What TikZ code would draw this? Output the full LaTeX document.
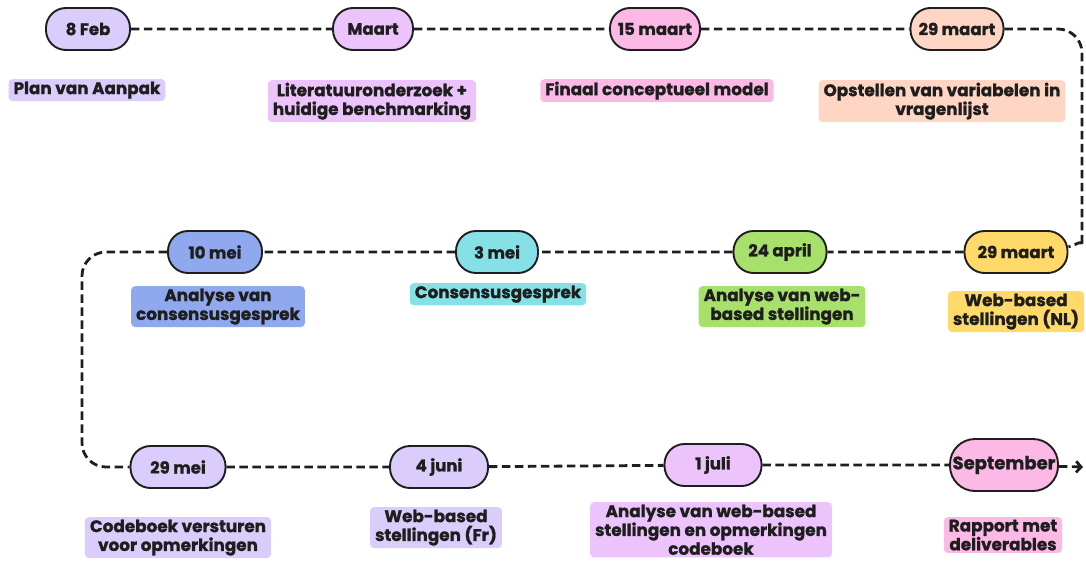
\documentclass[tikz,border=0pt]{standalone}
\usepackage{fontspec}
\setmainfont{Poppins}[BoldFont={Poppins Bold}, BoldFeatures={FakeBold=1.2}]
\usetikzlibrary{arrows.meta}
\definecolor{inkt}{HTML}{1E1E1E}
\definecolor{lila}{HTML}{DACDFB}
\definecolor{orchid}{HTML}{ECC3FB}
\definecolor{roze}{HTML}{FDB9E6}
\definecolor{perzik}{HTML}{FFD5C3}
\definecolor{blauw}{HTML}{8FA8EE}
\definecolor{cyaan}{HTML}{86E1E6}
\definecolor{groen}{HTML}{A7E16B}
\definecolor{geel}{HTML}{FFD969}
\tikzset{
  datum/.style={rectangle, rounded corners=20pt, draw=inkt, line width=1.9pt,
    minimum height=42pt, inner xsep=4pt,
    text=inkt, font=\bfseries\fontsize{16.5}{19}\selectfont},
  taak/.style={rounded corners=4pt, anchor=north, align=center,
    inner xsep=5pt, inner ysep=2.5pt, text=inkt,
    font=\bfseries\fontsize{16.8}{18.8}\selectfont},
  tijdlijn/.style={draw=inkt, line width=2.8pt, dash pattern=on 8.5pt off 4.5pt,
    rounded corners=24pt}
}
\begin{document}
\begin{tikzpicture}[x=1pt,y=-1pt]
\useasboundingbox (0,0) rectangle (1086,565);
% datums
\foreach \x/\y/\w/\nm/\txt/\col in {
    88/29/84/feb/8 Feb/lila, 373/29/80/maart/Maart/orchid,
    655/29/90/mrtb/15 maart/roze, 957/29/93/mrtc/29 maart/perzik,
    215/252/94/meia/10 mei/blauw, 497/252/82/meib/3 mei/cyaan,
    780/252/93/apr/24 april/groen, 1016/252/103/nl/29 maart/geel,
    178/467/95/meic/29 mei/lila, 439/467/98/juni/4 juni/lila,
    713/465/97/juli/1 juli/orchid}
  \node[datum, fill=\col, minimum width=\w pt] (\nm) at (\x,\y) {\txt};
\node[datum, fill=roze, minimum height=52pt, minimum width=108pt,
    inner xsep=0pt, rounded corners=25pt,
    font=\bfseries\fontsize{18}{20}\selectfont] (sep) at (1004,465) {September};
% taken
\foreach \x/\y/\nm/\txt/\col in {
    87/79/tfeb/{Plan van Aanpak}/lila,
    372/80/tmaart/{Literatuuronderzoek +\\huidige benchmarking}/orchid,
    657/79/tmrtb/{Finaal conceptueel model}/roze,
    942/80/tmrtc/{Opstellen van variabelen in\\vragenlijst}/perzik,
    218/286/tmeia/{Analyse van\\consensusgesprek}/blauw,
    498/283/tmeib/{Consensusgesprek}/cyaan,
    782/286/tapr/{Analyse van web-\\based stellingen}/groen,
    1016/291/tnl/{Web-based\\stellingen (NL)}/geel,
    178/517/tmeic/{Codeboek versturen\\voor opmerkingen}/lila,
    436/507/tjuni/{Web-based\\stellingen (Fr)}/lila,
    711/502/tjuli/{Analyse van web-based\\stellingen en opmerkingen\\codeboek}/orchid,
    1003/517/tsep/{Rapport met\\deliverables}/roze}
  \node[taak, fill=\col] (\nm) at (\x,\y) {\txt};
% tijdlijn
\coordinate (eind) at (1083,467);
\draw[tijdlijn] (feb) -- (maart) -- (mrtb) -- (mrtc) -- (1082,29) -- (1082,222)
    .. controls (1082,238) and (1076,246) .. (nl) -- (apr) -- (meib) -- (meia)
    -- (82,252) -- (82,467) -- (meic) -- (juni) -- (juli) -- (sep);
\draw[tijdlijn, -{Straight Barb[length=5pt,width=11pt]}] (sep) -- (eind);
\end{tikzpicture}
\end{document}
